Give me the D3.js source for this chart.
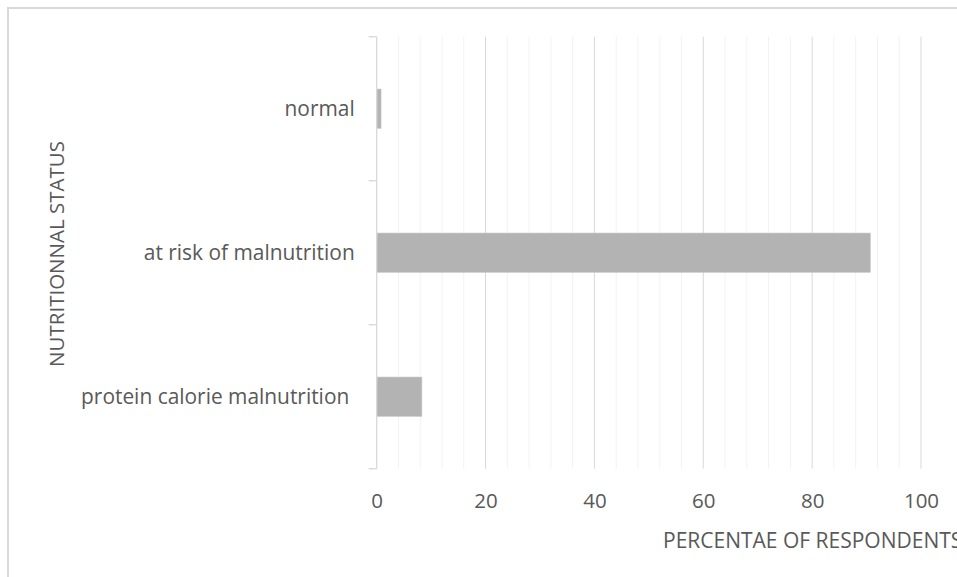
<!DOCTYPE html>
<html><head><meta charset="utf-8">
<script src="https://cdn.jsdelivr.net/npm/d3@7"></script>
<style>body{margin:0;background:#fff;overflow:hidden}svg{display:block}text{font-family:"Open Sans",Lato,sans-serif;fill:#595959}</style>
</head><body>
<script>
const categories = ["normal", "at risk of malnutrition", "protein calorie malnutrition "];
const values = [0.8, 90.7, 8.3];
const xTicks = [0, 20, 40, 60, 80, 100];
const xTitle = "PERCENTAE OF RESPONDENTS";
const yTitle = "NUTRITIONNAL STATUS";

const W = 957, H = 577;
const m = {left: 376.7, top: 36.7, right: W - 921, bottom: H - 468.7};
const pw = W - m.left - m.right, ph = H - m.top - m.bottom;

const svg = d3.select("body").append("svg").attr("width", W).attr("height", H);
svg.append("rect").attr("x", 8).attr("y", 8).attr("width", 1200).attr("height", 1200)
  .attr("fill", "none").attr("stroke", "#d9d9d9").attr("stroke-width", 2);

const x = d3.scaleLinear().domain([0, 100]).range([m.left, m.left + pw]);
const y = d3.scaleBand().domain(categories).range([m.top, m.top + ph]).padding(0);

const g = svg.append("g");
g.selectAll("line.minor").data(d3.range(0, 101, 4).filter(v => v % 20 !== 0)).join("line")
  .attr("x1", d => x(d)).attr("x2", d => x(d)).attr("y1", m.top).attr("y2", m.top + ph)
  .attr("stroke", "#f2f2f2").attr("stroke-width", 1);
g.selectAll("line.major").data(xTicks.filter(v => v > 0)).join("line")
  .attr("x1", d => x(d)).attr("x2", d => x(d)).attr("y1", m.top).attr("y2", m.top + ph)
  .attr("stroke", "#d9d9d9").attr("stroke-width", 1);

const barFrac = 0.273;
g.selectAll("rect.bar").data(values).join("rect")
  .attr("x", x(0))
  .attr("y", (d, i) => y(categories[i]) + y.bandwidth() * (1 - barFrac) / 2)
  .attr("width", d => x(d) - x(0))
  .attr("height", y.bandwidth() * barFrac)
  .attr("fill", "#b3b3b3").attr("stroke", "#c8c8c8").attr("stroke-width", 0.6);

const yAxis = d3.axisLeft(y).tickSize(0).tickPadding(22).tickFormat(d => d);
const ya = svg.append("g").attr("transform", `translate(${m.left},0)`).call(yAxis);
ya.select(".domain").remove();
ya.selectAll("text").attr("font-size", 20.9).attr("font-family", null).attr("dy", "0.36em").style("white-space", "pre").attr("fill", "#595959");
svg.append("line").attr("x1", m.left).attr("x2", m.left).attr("y1", m.top).attr("y2", m.top + ph)
  .attr("stroke", "#d9d9d9").attr("stroke-width", 1.3);
const bounds = categories.map(c => y(c)).concat([m.top + ph]);
svg.selectAll("line.ytick").data(bounds).join("line")
  .attr("x1", m.left - 8).attr("x2", m.left).attr("y1", d => d).attr("y2", d => d)
  .attr("stroke", "#d9d9d9").attr("stroke-width", 1.3);

const xAxis = d3.axisBottom(x).tickValues(xTicks).tickSize(0).tickPadding(0);
const xa = svg.append("g").attr("transform", `translate(0,${m.top + ph})`).call(xAxis);
xa.select(".domain").remove();
xa.selectAll("text").attr("font-size", 20.5).attr("font-family", null).attr("dy", null).attr("y", 39.5).attr("fill", "#595959");

svg.append("text").attr("x", 663).attr("y", 548).attr("font-size", 21).text(xTitle);
svg.append("text").attr("transform", "translate(63.5,254) rotate(-90)").attr("text-anchor", "middle")
  .attr("font-size", 20.5).text(yTitle);
</script>
</body></html>
